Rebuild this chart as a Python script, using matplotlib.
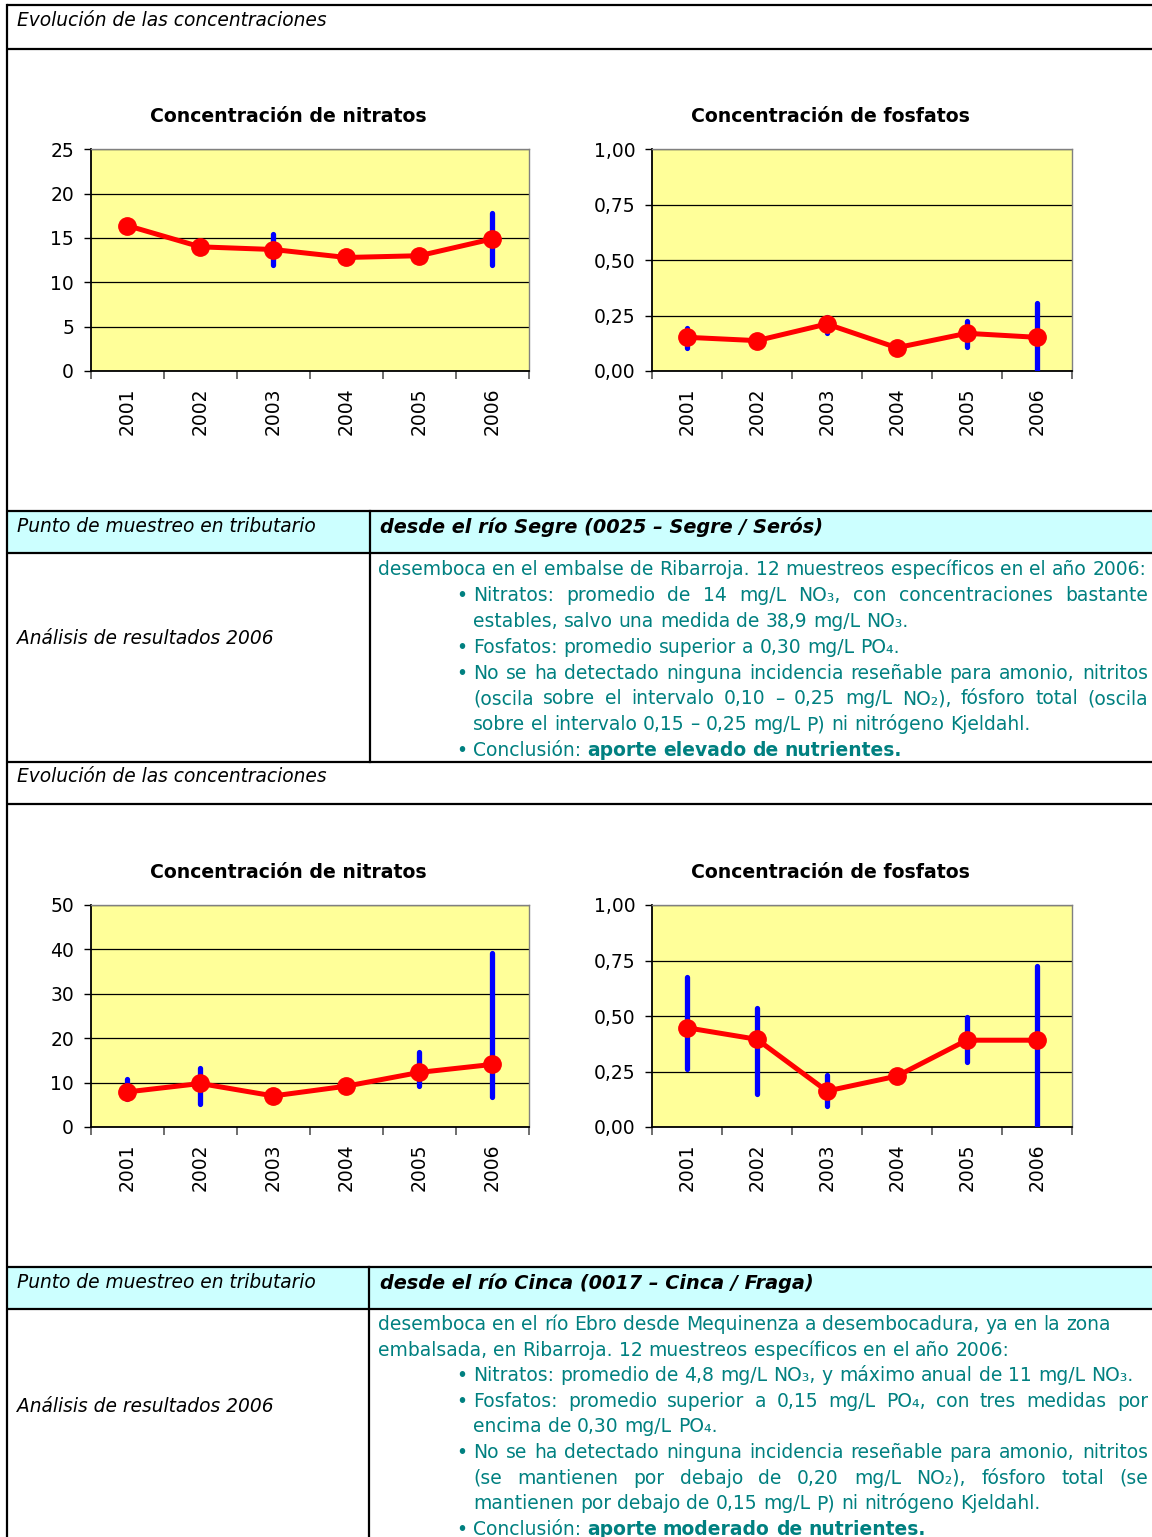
import matplotlib
matplotlib.use('Agg')
import matplotlib.pyplot as plt
import numpy as np
from matplotlib.ticker import FuncFormatter
from matplotlib.patches import Rectangle

# ---------------- data ----------------
years = ['2001', '2002', '2003', '2004', '2005', '2006']

segre_nit_mean = [16.4, 14.0, 13.7, 12.8, 13.0, 14.9]
segre_nit_min = [16.0, 13.6, 11.9, 12.4, 12.6, 11.9]
segre_nit_max = [16.8, 14.4, 15.5, 13.2, 13.4, 17.8]

segre_fos_mean = [0.152, 0.137, 0.212, 0.105, 0.170, 0.152]
segre_fos_min = [0.102, 0.125, 0.173, 0.080, 0.110, 0.0]
segre_fos_max = [0.195, 0.150, 0.245, 0.115, 0.226, 0.305]

cinca_nit_mean = [7.9, 9.8, 7.0, 9.2, 12.3, 14.1]
cinca_nit_min = [6.2, 5.1, 5.6, 8.8, 9.2, 6.8]
cinca_nit_max = [10.9, 13.2, 7.5, 9.6, 16.8, 39.1]

cinca_fos_mean = [0.447, 0.395, 0.162, 0.229, 0.391, 0.391]
cinca_fos_min = [0.263, 0.150, 0.093, 0.220, 0.293, 0.0]
cinca_fos_max = [0.677, 0.534, 0.233, 0.240, 0.495, 0.725]

title_nit = 'Concentración de nitratos'
title_fos = 'Concentración de fosfatos'
row_evol = 'Evolución de las concentraciones'
row_punto = 'Punto de muestreo en tributario'
row_analisis = 'Análisis de resultados 2006'
punto_segre = 'desde el río Segre (0025 – Segre / Serós)'
punto_cinca = 'desde el río Cinca (0017 – Cinca / Fraga)'

# paragraph lines: (bullet, [(text, weight)], justified)
segre_lines = [
    (False, [('desemboca en el embalse de Ribarroja. 12 muestreos específicos en el año 2006:', 'normal')], False),
    (True, [('Nitratos: promedio de 14 mg/L NO₃, con concentraciones bastante', 'normal')], True),
    (None, [('estables, salvo una medida de 38,9 mg/L NO₃.', 'normal')], False),
    (True, [('Fosfatos: promedio superior a 0,30 mg/L PO₄.', 'normal')], False),
    (True, [('No se ha detectado ninguna incidencia reseñable para amonio, nitritos', 'normal')], True),
    (None, [('(oscila sobre el intervalo 0,10 – 0,25 mg/L NO₂), fósforo total (oscila', 'normal')], True),
    (None, [('sobre el intervalo 0,15 – 0,25 mg/L P) ni nitrógeno Kjeldahl.', 'normal')], False),
    (True, [('Conclusión:', 'normal'), ('aporte elevado de nutrientes.', 'bold')], False),
]
cinca_lines = [
    (False, [('desemboca en el río Ebro desde Mequinenza a desembocadura, ya en la zona', 'normal')], False),
    (False, [('embalsada, en Ribarroja. 12 muestreos específicos en el año 2006:', 'normal')], False),
    (True, [('Nitratos: promedio de 4,8 mg/L NO₃, y máximo anual de 11 mg/L NO₃.', 'normal')], False),
    (True, [('Fosfatos: promedio superior a 0,15 mg/L PO₄, con tres medidas por', 'normal')], True),
    (None, [('encima de 0,30 mg/L PO₄.', 'normal')], False),
    (True, [('No se ha detectado ninguna incidencia reseñable para amonio, nitritos', 'normal')], True),
    (None, [('(se mantienen por debajo de 0,20 mg/L NO₂), fósforo total (se', 'normal')], True),
    (None, [('mantienen por debajo de 0,15 mg/L P) ni nitrógeno Kjeldahl.', 'normal')], False),
    (True, [('Conclusión:', 'normal'), ('aporte moderado de nutrientes.', 'bold')], False),
]

# ---------------- figure ----------------
W, H = 1152, 1537
fig = plt.figure(figsize=(W / 100, H / 100), dpi=100)
fig.patch.set_facecolor('white')
bg = fig.add_axes([0, 0, 1, 1], zorder=0)
bg.set_xlim(0, W)
bg.set_ylim(H, 0)
bg.axis('off')
renderer = fig.canvas.get_renderer()

TEAL = '#008080'
CYAN = '#CCFFFF'


def tw(s, size, weight='normal', style='normal'):
    t = bg.text(0, 0, s, fontsize=size, fontweight=weight, fontstyle=style)
    w = t.get_window_extent(renderer).width
    t.remove()
    return w


def fit(s, target, weight='normal', style='normal'):
    return 10 * target / tw(s, 10, weight, style)


# font sizes fitted to reference text widths
FS_HEAD = fit(row_evol, 309, style='italic')
FS_HEAD_B = fit(punto_segre, 444, weight='bold', style='italic')
FS_PARA = fit(segre_lines[0][1][0][0], 769)
FS_TITLE = fit(title_nit, 278, weight='bold')
FS_TICK = 13.5

# ---------------- table frame ----------------
lw_tab = 1.6
for (y0, y1) in [(511, 553), (1267, 1309)]:
    bg.add_patch(Rectangle((7, y0), W - 7, y1 - y0, facecolor=CYAN, edgecolor='none', zorder=0))
for y in [5, 49, 511, 553, 762, 804, 1267, 1309]:
    bg.plot([7, W + 5], [y, y], color='black', lw=lw_tab, solid_capstyle='butt', zorder=1)
bg.plot([7, 7], [5, H + 5], color='black', lw=lw_tab, zorder=1)
bg.plot([370, 370], [511, 762], color='black', lw=lw_tab, zorder=1)
bg.plot([369, 369], [1267, H + 5], color='black', lw=lw_tab, zorder=1)

# header texts
for yc in [21, 777]:
    bg.text(17, yc, row_evol, fontsize=FS_HEAD, fontstyle='italic', va='center', ha='left')
for yc, s in [(527, punto_segre), (1283, punto_cinca)]:
    bg.text(17, yc, row_punto, fontsize=FS_HEAD, fontstyle='italic', va='center', ha='left')
    bg.text(380, yc, s, fontsize=FS_HEAD_B, fontstyle='italic', fontweight='bold', va='center', ha='left')
for yc in [639, 1407]:
    bg.text(17, yc, row_analisis, fontsize=FS_HEAD, fontstyle='italic', va='center', ha='left')

# chart titles
for yc in [116, 872]:
    bg.text(288, yc, title_nit, fontsize=FS_TITLE, fontweight='bold', ha='center', va='center')
    bg.text(830, yc, title_fos, fontsize=FS_TITLE, fontweight='bold', ha='center', va='center')

# paragraphs
SPACE = tw('n n', FS_PARA) - tw('nn', FS_PARA)


def draw_para(lines, y0, dy, x_first=378, x_bul=456, x_text=473, x_right=1148):
    for i, (bullet, segs, just) in enumerate(lines):
        yb = y0 + i * dy
        x0 = x_first if bullet is False else x_text
        if bullet:
            bg.text(x_bul, yb, '•', fontsize=FS_PARA, color=TEAL, va='baseline', ha='left')
        tokens = []
        for text, weight in segs:
            for w in text.split(' '):
                if w:
                    tokens.append((w, weight))
        widths = [tw(w, FS_PARA, wt) for w, wt in tokens]
        if just and len(tokens) > 1:
            gap = (x_right - x0 - sum(widths)) / (len(tokens) - 1)
        else:
            gap = SPACE
        x = x0
        for (w, wt), wd in zip(tokens, widths):
            bg.text(x, yb, w, fontsize=FS_PARA, fontweight=wt, color=TEAL, va='baseline', ha='left')
            x += wd + gap


draw_para(segre_lines, 575, 25.9)
draw_para(cinca_lines, 1330, 25.6)


# ---------------- charts ----------------
def chart(left, top, right, bottom, mean, lo, hi, ymax, step, fmt):
    ax = fig.add_axes([left / W, 1 - bottom / H, (right - left) / W, (bottom - top) / H], zorder=2)
    ax.set_facecolor('#FFFF99')
    x = np.arange(len(years))
    ax.vlines(x, lo, hi, color='#0000FF', lw=3.8, zorder=3, capstyle='round')
    ax.plot(x, mean, color='#FF0000', lw=3.6, marker='o', ms=12.5, zorder=4)
    ax.set_xlim(-0.5, len(years) - 0.5)
    ax.set_ylim(0, ymax)
    ax.set_yticks(np.arange(0, ymax + step / 2, step))
    ax.yaxis.set_major_formatter(FuncFormatter(fmt))
    ax.set_xticks(np.arange(-0.5, len(years)))
    ax.set_xticklabels([])
    ax.set_xticks(x, minor=True)
    ax.set_xticklabels(years, minor=True, rotation=90)
    ax.tick_params(axis='x', which='major', length=6, color='#555555', width=1.2, direction='out')
    ax.tick_params(axis='x', which='minor', length=0, pad=12, labelsize=FS_TICK)
    ax.tick_params(axis='y', length=5, width=1, direction='out', pad=7, labelsize=FS_TICK)
    ax.yaxis.grid(True, color='black', lw=0.9)
    ax.xaxis.grid(False)
    ax.set_axisbelow(True)
    for s in ['left', 'bottom']:
        ax.spines[s].set_color('black')
        ax.spines[s].set_linewidth(1.3)
    for s in ['top', 'right']:
        ax.spines[s].set_color('#808080')
        ax.spines[s].set_linewidth(1.0)
    return ax


fmt_int = lambda v, p: f'{v:.0f}'
fmt_dec = lambda v, p: f'{v:.2f}'.replace('.', ',')

chart(90.7, 149.3, 529, 371, segre_nit_mean, segre_nit_min, segre_nit_max, 25, 5, fmt_int)
chart(652, 149.3, 1071.7, 371, segre_fos_mean, segre_fos_min, segre_fos_max, 1.0, 0.25, fmt_dec)
chart(90.7, 905, 529, 1127, cinca_nit_mean, cinca_nit_min, cinca_nit_max, 50, 10, fmt_int)
chart(652, 905, 1071.7, 1127, cinca_fos_mean, cinca_fos_min, cinca_fos_max, 1.0, 0.25, fmt_dec)

fig.savefig('out.png', dpi=100, facecolor='white')
